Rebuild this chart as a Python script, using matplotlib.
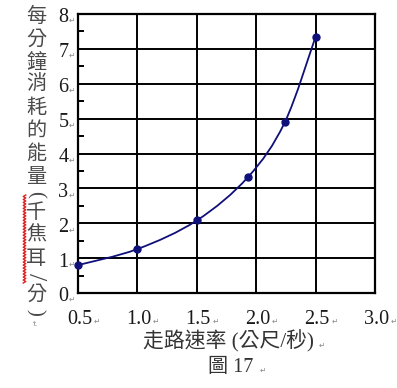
import numpy as np
import matplotlib
matplotlib.use("Agg")
import matplotlib.pyplot as plt
from matplotlib.path import Path
from matplotlib.patches import PathPatch
from matplotlib.ticker import MultipleLocator

# ---- data ----
speed = [0.5, 1.0, 1.5, 1.93, 2.24, 2.5]          # 走路速率 (公尺/秒)
energy = [0.80, 1.26, 2.08, 3.32, 4.89, 7.35]       # 每分鐘消耗的能量 (千焦耳/分)
x_ticks = [0.5, 1.0, 1.5, 2.0, 2.5, 3.0]
x_ticklabels = ["0.5", "1.0", "1.5", "2.0", "2.5", "3.0"]
y_ticks = [0, 1, 2, 3, 4, 5, 6, 7, 8]
y_ticklabels = ["0", "1", "2", "3", "4", "5", "6", "7", "8"]
x_label = "走路速率 (公尺/秒)"
y_label_chars = list("每分鐘消耗的能量（千焦耳／分）")
caption = "圖 17"

W, H = 397, 388
fig = plt.figure(figsize=(W / 100, H / 100), dpi=100)
ax = fig.add_axes([78 / W, 1 - 293 / H, (375 - 78) / W, (293 - 14) / H])

serif = ["Liberation Serif", "DejaVu Serif"]
mixed = ["Liberation Serif", "Noto Sans CJK TC", "DejaVu Sans"]
cjk = ["Noto Sans CJK TC", "DejaVu Sans"]
navy = "#10107a"
ink = "#1a1a1a"
mark_col = "#8a8a8a"

ax.set_xlim(0.5, 3.0)
ax.set_ylim(0, 8)
ax.set_xticks(x_ticks)
ax.set_yticks(y_ticks)
ax.yaxis.set_minor_locator(MultipleLocator(0.5))
ax.grid(True, which="major", color="black", lw=1.4)
for s in ax.spines.values():
    s.set_linewidth(1.6)
    s.set_color("black")
ax.tick_params(which="major", length=0, labelleft=False, labelbottom=False)
ax.tick_params(axis="y", which="minor", direction="in", length=4, width=1.4)
ax.tick_params(axis="x", which="minor", length=0)

# tick labels with paragraph marks
for v, lab in zip(y_ticks, y_ticklabels):
    ax.annotate(lab, xy=(0, v), xycoords=("axes fraction", "data"),
                xytext=(-7, 4), textcoords="offset points",
                ha="right", va="top", fontsize=14.5, family=serif, color=ink)
    ax.annotate("↵", xy=(0, v), xycoords=("axes fraction", "data"),
                xytext=(-2.5, -1.5), textcoords="offset points",
                ha="right", va="top", fontsize=5.5, family="DejaVu Sans", color=mark_col)
for v, lab in zip(x_ticks, x_ticklabels):
    ax.annotate(lab, xy=(v, 0), xycoords=("data", "axes fraction"),
                xytext=(1, -12), textcoords="offset points",
                ha="center", va="top", fontsize=14.5, family=serif, color=ink)
    ax.annotate("↵", xy=(v, 0), xycoords=("data", "axes fraction"),
                xytext=(13.5, -17), textcoords="offset points",
                ha="center", va="top", fontsize=5.5, family="DejaVu Sans", color=mark_col)

# smooth curve through the points (Catmull-Rom -> cubic Bezier)
P = np.column_stack([speed, energy])
Pe = np.vstack([P[0], P, P[-1]])
verts = [tuple(P[0])]
codes = [Path.MOVETO]
for i in range(len(P) - 1):
    p0, p1, p2, p3 = Pe[i], Pe[i + 1], Pe[i + 2], Pe[i + 3]
    c1 = p1 + (p2 - p0) / 6
    c2 = p2 - (p3 - p1) / 6
    verts += [tuple(c1), tuple(c2), tuple(p2)]
    codes += [Path.CURVE4] * 3
ax.add_patch(PathPatch(Path(verts, codes), fill=False, edgecolor=navy, lw=1.3, zorder=3))
ax.plot(speed, energy, "o", color=navy, ms=5, zorder=4, clip_on=False)

# x label and caption
fig.text(228 / W, 1 - 341 / H, x_label, ha="center", va="center",
         fontsize=15, family=mixed, color="#333333")
fig.text(322 / W, 1 - 345 / H, "↵", ha="center", va="center",
         fontsize=5.5, family="DejaVu Sans", color=mark_col)
fig.text(231 / W, 1 - 367 / H, caption, ha="center", va="center",
         fontsize=14.5, family=mixed, color="#333333")
fig.text(263 / W, 1 - 370 / H, "↵", ha="center", va="center",
         fontsize=5.5, family="DejaVu Sans", color=mark_col)

# vertical y label (brackets and slash turned for vertical writing)
adv = {"（": 0.6, "）": 0.6, "／": 0.6}
rot = {"（": -90, "）": -90, "／": -90}
glyph = {"（": "(", "）": ")", "／": "/"}
size = {"（": 15, "）": 15, "／": 19}
y = 5.0
step = 22.8
for ch in y_label_chars:
    a = adv.get(ch, 1.0) * step
    yc = y + a / 2
    is_sym = ch in glyph
    fig.text((35 if is_sym else 36) / W, 1 - yc / H, glyph.get(ch, ch),
             ha="center", va="center", rotation=rot.get(ch, 0),
             fontsize=size.get(ch, 14.5),
             family=serif if is_sym else cjk, color="#4a4a4a", fontweight="light")
    y += a
fig.text(33 / W, 1 - 323 / H, "↵", ha="center", va="center", rotation=-90,
         fontsize=5, family="DejaVu Sans", color=mark_col)

# red wavy spell-check underline beside 千焦耳／
wy = np.linspace(195, 283, 60)
wx = 24.5 + 1.3 * np.where(np.arange(60) % 2 == 0, 1, -1)
fig.add_artist(plt.Line2D(wx / W, 1 - wy / H, color="#e02020", lw=1.0))

fig.savefig("out.png", dpi=100)
